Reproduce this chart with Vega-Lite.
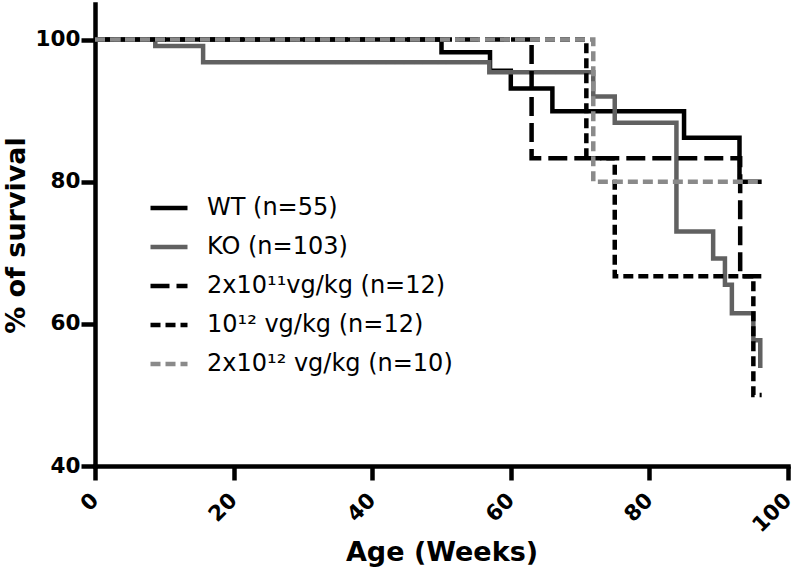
{
  "$schema": "https://vega.github.io/schema/vega-lite/v6.json",
  "width": 693,
  "height": 462,
  "autosize": {"type": "none"},
  "padding": {"left": 95, "top": 4, "right": 8, "bottom": 110},
  "background": "white",
  "config": {
    "view": {"stroke": null},
    "font": "DejaVu Sans",
    "legend": {
      "symbolType": "stroke",
      "symbolSize": 1369,
      "symbolStrokeWidth": 4.5,
      "labelFont": "DejaVu Sans",
      "labelFontSize": 24,
      "labelColor": "black",
      "labelOffset": 17,
      "labelBaseline": "middle",
      "labelLimit": 400,
      "rowPadding": 6,
      "padding": 0
    }
  },
  "data": {
    "values": [
      {"group": "WT (n=55)", "week": 0, "survival": 100},
      {"group": "WT (n=55)", "week": 50, "survival": 98.2},
      {"group": "WT (n=55)", "week": 57, "survival": 95.6},
      {"group": "WT (n=55)", "week": 60, "survival": 93.1},
      {"group": "WT (n=55)", "week": 66, "survival": 89.9},
      {"group": "WT (n=55)", "week": 85, "survival": 86.2},
      {"group": "WT (n=55)", "week": 93, "survival": 80},
      {"group": "WT (n=55)", "week": 96.2, "survival": 80},
      {"group": "KO (n=103)", "week": 0, "survival": 100},
      {"group": "KO (n=103)", "week": 8.7, "survival": 99.1},
      {"group": "KO (n=103)", "week": 15.6, "survival": 96.8},
      {"group": "KO (n=103)", "week": 56.9, "survival": 95.4},
      {"group": "KO (n=103)", "week": 71.9, "survival": 92},
      {"group": "KO (n=103)", "week": 75, "survival": 88.3},
      {"group": "KO (n=103)", "week": 83.9, "survival": 73},
      {"group": "KO (n=103)", "week": 89.2, "survival": 69.2},
      {"group": "KO (n=103)", "week": 90.9, "survival": 65.5},
      {"group": "KO (n=103)", "week": 91.9, "survival": 61.5},
      {"group": "KO (n=103)", "week": 95, "survival": 57.7},
      {"group": "KO (n=103)", "week": 96, "survival": 53.8},
      {"group": "2x10¹¹vg/kg (n=12)", "week": 0, "survival": 100},
      {"group": "2x10¹¹vg/kg (n=12)", "week": 63, "survival": 83.3},
      {"group": "2x10¹¹vg/kg (n=12)", "week": 93.1, "survival": 66.7},
      {"group": "2x10¹¹vg/kg (n=12)", "week": 96.2, "survival": 66.7},
      {"group": "10¹² vg/kg (n=12)", "week": 0, "survival": 100},
      {"group": "10¹² vg/kg (n=12)", "week": 70.9, "survival": 83.3},
      {"group": "10¹² vg/kg (n=12)", "week": 75, "survival": 66.7},
      {"group": "10¹² vg/kg (n=12)", "week": 95, "survival": 50},
      {"group": "10¹² vg/kg (n=12)", "week": 96.2, "survival": 50},
      {"group": "2x10¹² vg/kg (n=10)", "week": 0, "survival": 100},
      {"group": "2x10¹² vg/kg (n=10)", "week": 71.9, "survival": 80},
      {"group": "2x10¹² vg/kg (n=10)", "week": 96.2, "survival": 80}
    ]
  },
  "mark": {"type": "line", "interpolate": "step-after", "strokeWidth": 4.5, "strokeJoin": "miter", "strokeCap": "butt"},
  "encoding": {
    "x": {
      "field": "week",
      "type": "quantitative",
      "scale": {"domain": [0, 100], "nice": false},
      "axis": {
        "values": [0, 20, 40, 60, 80, 100],
        "grid": false,
        "domainColor": "black",
        "domainWidth": 4.5,
        "domainCap": "square",
        "tickColor": "black",
        "tickWidth": 4.5,
        "tickSize": 14,
        "labelAngle": -45,
        "labelAlign": "right",
        "labelBaseline": "middle",
        "labelPadding": 17,
        "labelFont": "DejaVu Sans",
        "labelFontWeight": "bold",
        "labelFontSize": 21.5,
        "labelColor": "black",
        "title": "Age (Weeks)",
        "titleFont": "DejaVu Sans",
        "titleFontSize": 27,
        "titleFontWeight": "bold",
        "titleColor": "black",
        "titlePadding": 3
      }
    },
    "y": {
      "field": "survival",
      "type": "quantitative",
      "scale": {"domain": [40, 105], "nice": false, "zero": false},
      "axis": {
        "values": [40, 60, 80, 100],
        "grid": false,
        "domainColor": "black",
        "domainWidth": 4.5,
        "domainCap": "square",
        "tickColor": "black",
        "tickWidth": 4.5,
        "tickSize": 14,
        "labelPadding": 1,
        "labelFont": "DejaVu Sans",
        "labelFontWeight": "bold",
        "labelFontSize": 21.5,
        "labelColor": "black",
        "title": "% of survival",
        "titleFont": "DejaVu Sans",
        "titleFontSize": 27,
        "titleFontWeight": "bold",
        "titleColor": "black",
        "titlePadding": 5
      }
    },
    "color": {
      "field": "group",
      "type": "nominal",
      "scale": {
        "domain": ["WT (n=55)", "KO (n=103)", "2x10¹¹vg/kg (n=12)", "10¹² vg/kg (n=12)", "2x10¹² vg/kg (n=10)"],
        "range": ["#000000", "#616161", "#000000", "#000000", "#8a8a8a"]
      },
      "legend": {"title": null, "orient": "none", "legendX": 53, "legendY": 183}
    },
    "strokeDash": {
      "field": "group",
      "type": "nominal",
      "scale": {
        "domain": ["WT (n=55)", "KO (n=103)", "2x10¹¹vg/kg (n=12)", "10¹² vg/kg (n=12)", "2x10¹² vg/kg (n=10)"],
        "range": [[1, 0], [1, 0], [19, 7], [10, 5], [10, 5]]
      },
      "legend": {"title": null, "orient": "none", "legendX": 53, "legendY": 183}
    }
  }
}
